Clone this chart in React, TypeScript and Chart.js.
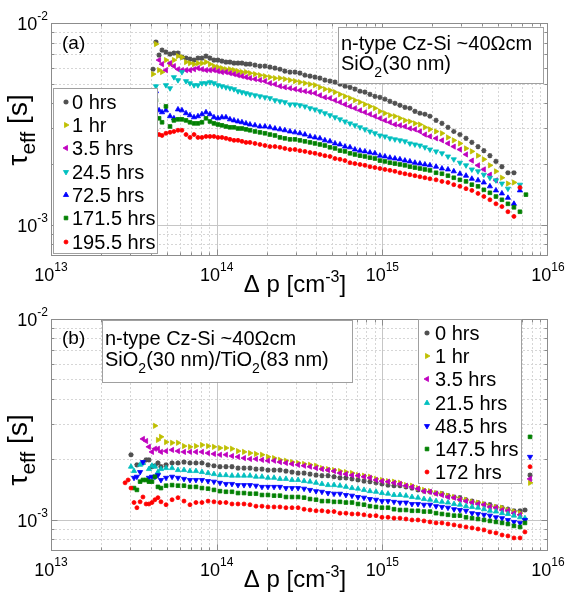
import React, { useEffect, useRef } from 'react';
import { Chart, registerables } from 'chart.js';

Chart.register(...registerables);

const FONT = '"Liberation Sans", Arial, Helvetica, sans-serif';

// ---------------- DATA ----------------
// Panel (a): excess carrier density Δp [cm^-3]
const deltaP_a = [
  4.13e13, 4.30e13, 4.49e13, 4.68e13, 4.94e13, 5.23e13, 5.52e13, 5.84e13, 6.17e13, 6.53e13,
  6.90e13, 7.30e13, 7.71e13, 8.15e13, 8.62e13, 9.11e13, 9.63e13, 1.018e14, 1.076e14, 1.138e14,
  1.203e14, 1.272e14, 1.345e14, 1.421e14, 1.503e14, 1.589e14, 1.703e14, 1.825e14, 1.956e14, 2.097e14,
  2.248e14, 2.41e14, 2.58e14, 2.77e14, 2.97e14, 3.18e14, 3.41e14, 3.66e14, 3.92e14, 4.2e14,
  4.5e14, 4.83e14, 5.18e14, 5.55e14, 5.95e14, 6.38e14, 6.83e14, 7.33e14, 7.85e14, 8.42e14,
  9.02e14, 9.67e14, 1.037e15, 1.111e15, 1.191e15, 1.277e15, 1.369e15, 1.467e15, 1.573e15, 1.686e15,
  1.807e15, 1.938e15, 2.11e15, 2.29e15, 2.49e15, 2.7e15, 2.94e15, 3.2e15, 3.47e15, 3.78e15,
  4.1e15, 4.46e15, 4.85e15, 5.27e15, 5.73e15, 6.23e15, 6.77e15, 7.36e15,
];
// τeff in ms
const tauA_0hrs = [
  5.90, 8.05, 6.93, 7.34, 7.17, 7.01, 7.09, 7.09, 6.77, 6.70,
  6.62, 6.55, 6.70, 6.70, 6.85, 6.70, 6.55, 6.55, 6.47, 6.40,
  6.40, 6.32, 6.32, 6.32, 6.25, 6.25, 6.18, 6.11, 6.11, 6.04,
  5.97, 5.90, 5.77, 5.71, 5.71, 5.64, 5.51, 5.45, 5.39, 5.33,
  5.21, 5.15, 5.09, 4.97, 4.86, 4.80, 4.70, 4.59, 4.54, 4.43,
  4.33, 4.28, 4.19, 4.09, 4.00, 3.91, 3.82, 3.78, 3.65, 3.57,
  3.53, 3.45, 3.29, 3.18, 3.04, 2.90, 2.80, 2.68, 2.56, 2.44,
  2.33, 2.20, 2.06, 1.94, 1.81, 1.81, null, null,
];
const tauA_1hr = [
  5.58, 7.86, 5.84, 5.71, 6.55, 6.25, 6.55, 6.85, 6.77, 6.40,
  6.32, 6.25, 6.32, 6.32, 6.40, 6.25, 6.11, 6.04, 5.97, 5.90,
  5.90, 5.84, 5.77, 5.71, 5.71, 5.64, 5.58, 5.51, 5.45, 5.39,
  5.33, 5.33, 5.27, 5.21, 5.15, 5.09, 5.03, 4.97, 4.92, 4.80,
  4.70, 4.64, 4.54, 4.43, 4.33, 4.24, 4.14, 4.05, 3.95, 3.86,
  3.78, 3.65, 3.57, 3.49, 3.45, 3.37, 3.29, 3.25, 3.18, 3.14,
  3.04, 2.97, 2.90, 2.84, 2.71, 2.62, 2.53, 2.39, 2.31, 2.20,
  2.11, 1.97, 1.84, 1.71, 1.60, 1.62, null, null,
];
const tauA_3p5hrs = [
  null, null, 6.55, 6.25, 5.84, 6.32, 6.11, 5.90, 5.84, 5.84,
  5.84, 5.90, 5.97, 5.90, 5.84, 5.84, 5.84, 5.77, 5.71, 5.71,
  5.64, 5.58, 5.51, 5.45, 5.39, 5.33, 5.27, 5.21, 5.15, 5.03,
  4.97, 4.86, 4.80, 4.75, 4.70, 4.64, 4.59, 4.54, 4.49, 4.38,
  4.28, 4.24, 4.14, 4.05, 3.95, 3.86, 3.78, 3.69, 3.61, 3.53,
  3.45, 3.37, 3.29, 3.22, 3.14, 3.11, 3.07, 3.00, 2.97, 2.90,
  2.80, 2.74, 2.68, 2.62, 2.53, 2.44, 2.36, 2.23, 2.08, 1.97,
  1.88, 1.77, 1.66, null, null, null, null, null,
];
const tauA_24p5hrs = [
  null, 4.86, null, null, 4.92, 4.75, 5.39, 5.21, 5.71, 5.15,
  5.03, 4.92, 4.92, 5.03, 5.03, 5.09, 5.03, 4.92, 4.86, 4.80,
  4.75, 4.70, 4.59, 4.54, 4.49, 4.43, 4.38, 4.33, 4.28, 4.24,
  4.14, 4.09, 4.05, 3.95, 3.95, 3.91, 3.86, 3.78, 3.73, 3.65,
  3.57, 3.49, 3.41, 3.33, 3.25, 3.18, 3.11, 3.04, 2.97, 2.90,
  2.84, 2.77, 2.74, 2.68, 2.65, 2.62, 2.59, 2.53, 2.50, 2.47,
  2.42, 2.36, 2.31, 2.26, 2.18, 2.11, 2.03, 1.97, 1.88, 1.84,
  1.77, 1.71, 1.66, 1.60, 1.51, null, 1.58, null,
];
const tauA_72p5hrs = [
  null, 4.59, 3.69, 3.61, 3.69, 3.45, 3.37, 3.73, 3.69, 3.57,
  3.49, 3.41, 3.45, 3.53, 3.61, 3.53, 3.41, 3.37, 3.41, 3.41,
  3.33, 3.29, 3.25, 3.22, 3.18, 3.14, 3.11, 3.07, 3.07, 3.04,
  3.00, 2.97, 2.94, 2.90, 2.87, 2.84, 2.80, 2.74, 2.71, 2.68,
  2.62, 2.59, 2.53, 2.50, 2.44, 2.42, 2.36, 2.33, 2.31, 2.28,
  2.26, 2.20, 2.18, 2.15, 2.13, 2.11, 2.08, 2.06, 2.03, 2.01,
  1.99, 1.97, 1.94, 1.90, 1.88, 1.84, 1.79, 1.75, 1.69, 1.66,
  1.62, 1.55, 1.48, 1.43, 1.36, 1.27, 1.48, null,
];
const tauA_171p5hrs = [
  null, 4.14, 3.37, 3.22, 3.86, 3.07, 3.29, 3.33, 3.33, 3.29,
  3.22, 3.18, 3.18, 3.22, 3.37, 3.25, 3.18, 3.14, 3.11, 3.07,
  3.04, 3.04, 3.00, 3.00, 2.97, 2.94, 2.90, 2.87, 2.84, 2.80,
  2.77, 2.71, 2.68, 2.65, 2.65, 2.62, 2.59, 2.56, 2.53, 2.50,
  2.47, 2.42, 2.39, 2.33, 2.31, 2.26, 2.23, 2.20, 2.18, 2.15,
  2.13, 2.08, 2.06, 2.03, 2.01, 1.99, 1.97, 1.94, 1.92, 1.90,
  1.88, 1.86, 1.81, 1.79, 1.75, 1.71, 1.67, 1.64, 1.58, 1.55,
  1.49, 1.44, 1.38, 1.33, 1.27, 1.22, 1.16, 1.41,
];
const tauA_195p5hrs = [
  null, 2.94, 2.80, 2.77, 2.84, 2.87, 2.90, 2.94, 2.94, 2.80,
  2.71, 2.80, 2.71, 2.71, 2.74, 2.74, 2.74, 2.71, 2.71, 2.68,
  2.65, 2.62, 2.62, 2.59, 2.56, 2.56, 2.53, 2.50, 2.47, 2.44,
  2.44, 2.42, 2.39, 2.36, 2.36, 2.33, 2.31, 2.28, 2.26, 2.23,
  2.20, 2.18, 2.13, 2.11, 2.08, 2.03, 2.01, 1.99, 1.97, 1.94,
  1.92, 1.90, 1.88, 1.86, 1.84, 1.81, 1.79, 1.77, 1.75, 1.73,
  1.71, 1.69, 1.67, 1.64, 1.62, 1.58, 1.55, 1.51, 1.48, 1.43,
  1.38, 1.33, 1.27, 1.23, 1.16, 1.10, 1.53, null,
];

// Panel (b)
const deltaP_b = [
  2.8e13, 2.92e13, 3.04e13, 3.17e13, 3.3e13, 3.45e13, 3.59e13, 3.75e13, 3.9e13, 4.07e13, 4.24e13, 4.42e13, 4.61e13,
  4.95e13, 5.38e13, 5.84e13, 6.35e13, 6.9e13, 7.5e13, 8.15e13, 8.87e13, 9.63e13,
  1.047e14, 1.138e14, 1.237e14, 1.345e14, 1.462e14, 1.589e14, 1.727e14, 1.877e14,
  2.04e14, 2.22e14, 2.41e14, 2.62e14, 2.85e14, 3.1e14, 3.37e14, 3.66e14, 3.98e14, 4.32e14,
  4.7e14, 5.11e14, 5.55e14, 6.03e14, 6.56e14, 7.13e14, 7.75e14, 8.42e14, 9.16e14, 9.95e14,
  1.082e15, 1.176e15, 1.278e15, 1.389e15, 1.51e15, 1.641e15, 1.784e15, 1.94e15,
  2.11e15, 2.29e15, 2.49e15, 2.71e15, 2.94e15, 3.2e15, 3.48e15, 3.78e15, 4.11e15, 4.46e15,
  4.85e15, 5.28e15, 5.73e15, 6.23e15, 6.78e15,
  7.26e15, 7.79e15,
];
const tauB_0hrs = [
  null, null, 2.11, null, 1.88, null, 1.92, 1.99, 1.99, 1.84, 1.86, 1.92, 1.84,
  1.88, 1.92, 1.92, 1.94, 1.92, 1.92, 1.92, 1.88, 1.86,
  1.84, 1.84, 1.84, 1.81, 1.81, 1.81, 1.79, 1.79,
  1.77, 1.77, 1.77, 1.75, 1.73, 1.71, 1.71, 1.69, 1.67, 1.66,
  1.66, 1.64, 1.62, 1.62, 1.60, 1.58, 1.56, 1.55, 1.53, 1.51,
  1.49, 1.48, 1.48, 1.46, 1.44, 1.41, 1.39, 1.38,
  1.36, 1.35, 1.32, 1.30, 1.29, 1.26, 1.24, 1.22, 1.20, 1.19,
  1.16, 1.15, 1.13, 1.11, 1.11,
  1.12, 1.67,
];
const tauB_1hr = [
  null, null, null, null, null, null, null, null, null, null, 2.94, 2.50, 2.59,
  2.44, 2.42, 2.42, 2.33, 2.31, 2.33, 2.36, 2.33, 2.31,
  2.28, 2.28, 2.26, 2.20, 2.18, 2.15, 2.13, 2.11,
  2.06, 2.03, 1.99, 1.97, 1.94, 1.92, 1.90, 1.88, 1.86, 1.81,
  1.79, 1.77, 1.75, 1.73, 1.71, 1.67, 1.66, 1.64, 1.60, 1.58,
  1.56, 1.55, 1.53, 1.49, 1.48, 1.44, 1.41, 1.39,
  1.36, 1.35, 1.32, 1.30, 1.27, 1.26, 1.23, 1.22, 1.20, 1.17,
  1.16, 1.15, 1.12, 1.10, 1.08,
  null, 1.53,
];
const tauB_3p5hrs = [
  null, null, null, null, null, null, 2.53, 2.47, 2.31, 2.18, 2.26, 2.26, 2.18,
  2.20, 2.23, 2.20, 2.18, 2.18, 2.18, 2.18, 2.15, 2.13,
  2.11, 2.11, 2.08, 2.06, 2.03, 2.01, 2.01, 1.99,
  1.97, 1.97, 1.94, 1.92, 1.90, 1.88, 1.86, 1.84, 1.81, 1.79,
  1.77, 1.75, 1.71, 1.69, 1.67, 1.66, 1.64, 1.62, 1.58, 1.56,
  1.55, 1.53, 1.51, 1.48, 1.46, 1.43, 1.39, 1.38,
  1.35, 1.33, 1.30, 1.29, 1.26, 1.24, 1.22, 1.20, 1.19, 1.16,
  1.15, 1.12, 1.11, 1.08, 1.06,
  null, 1.60,
];
const tauB_21p5hrs = [
  null, null, 1.84, 1.75, null, 1.88, 1.92, null, 1.79, 1.86, 1.84, 1.73, 1.79,
  1.81, 1.81, 1.77, 1.77, 1.75, 1.75, 1.73, 1.71, 1.69,
  1.67, 1.67, 1.66, 1.66, 1.66, 1.66, 1.64, 1.64,
  1.62, 1.62, 1.60, 1.60, 1.58, 1.58, 1.56, 1.55, 1.53, 1.51,
  1.49, 1.49, 1.48, 1.46, 1.44, 1.43, 1.41, 1.39, 1.38, 1.36,
  1.35, 1.33, 1.33, 1.32, 1.30, 1.29, 1.27, 1.26,
  1.24, 1.23, 1.22, 1.20, 1.19, 1.17, 1.16, 1.15, 1.13, 1.11,
  1.10, 1.08, 1.07, 1.05, 1.03,
  1.02, null,
];
const tauB_48p5hrs = [
  null, null, null, 1.62, 1.64, 1.73, 1.94, null, 1.62, 1.64, 1.64, 1.67, 1.58,
  1.62, 1.64, 1.62, 1.60, 1.58, 1.58, 1.58, 1.56, 1.55,
  1.53, 1.51, 1.51, 1.49, 1.49, 1.49, 1.48, 1.46,
  1.46, 1.46, 1.46, 1.44, 1.44, 1.44, 1.43, 1.41, 1.39, 1.38,
  1.36, 1.35, 1.35, 1.33, 1.32, 1.30, 1.29, 1.27, 1.26, 1.24,
  1.24, 1.23, 1.22, 1.22, 1.20, 1.20, 1.19, 1.19,
  1.17, 1.16, 1.15, 1.13, 1.12, 1.11, 1.08, 1.07, 1.06, 1.05,
  1.03, 1.02, 0.999, 0.977, 0.966,
  0.999, 2.06,
];
const tauB_147p5hrs = [
  null, null, null, 1.44, 1.41, 1.55, 1.58, 1.58, 1.55, 1.55, 1.64, 1.46, 1.44,
  1.48, 1.49, 1.48, 1.48, 1.46, 1.46, 1.44, 1.43, 1.41,
  1.39, 1.38, 1.38, 1.36, 1.36, 1.35, 1.35, 1.33,
  1.33, 1.32, 1.32, 1.30, 1.30, 1.30, 1.29, 1.27, 1.26, 1.24,
  1.24, 1.23, 1.23, 1.22, 1.22, 1.20, 1.19, 1.17, 1.16, 1.15,
  1.15, 1.13, 1.12, 1.12, 1.11, 1.11, 1.10, 1.10,
  1.08, 1.07, 1.06, 1.05, 1.05, 1.03, 1.02, 1.01, 0.999, 0.988,
  0.977, 0.966, 0.954, 0.933, 0.922,
  0.966, 2.59,
];
const tauB_172hrs = [
  1.53, 1.58, 1.44, 1.22, 1.15, 1.23, 1.30, 1.20, 1.20, 1.22, 1.26, 1.29, 1.23,
  1.19, 1.26, 1.29, 1.24, 1.19, 1.22, 1.22, 1.24, 1.23,
  1.22, 1.22, 1.20, 1.20, 1.20, 1.19, 1.17, 1.17,
  1.16, 1.16, 1.16, 1.15, 1.15, 1.15, 1.13, 1.12, 1.11, 1.11,
  1.10, 1.10, 1.08, 1.08, 1.07, 1.07, 1.06, 1.05, 1.05, 1.03,
  1.03, 1.02, 1.02, 1.01, 0.999, 0.999, 0.988, 0.977,
  0.966, 0.966, 0.954, 0.944, 0.933, 0.922, 0.912, 0.901, 0.891, 0.871,
  0.861, 0.841, 0.832, 0.813, 0.813,
  0.871, 1.84,
];

const labelsA = ['0 hrs', '1 hr', '3.5 hrs', '24.5 hrs', '72.5 hrs', '171.5 hrs', '195.5 hrs'];
const labelsB = ['0 hrs', '1 hr', '3.5 hrs', '21.5 hrs', '48.5 hrs', '147.5 hrs', '172 hrs'];
const xTickExponents = [13, 14, 15, 16];
const yTickExponents = [-3, -2];
const X_MIN = 1e13, X_MAX = 1e16, Y_MIN = 7e-4, Y_MAX = 1e-2;

// ---------------- STYLES ----------------
type Mk = { color: string; style: string; rot: number; r: number };
const GRAY: Mk = { color: '#505050', style: 'star', rot: 0, r: 2.6 };
const YEL: Mk = { color: '#bfbf00', style: 'triangle', rot: 90, r: 3 };
const MAG: Mk = { color: '#bf00bf', style: 'triangle', rot: -90, r: 3 };
const CYA_DOWN: Mk = { color: '#00bfbf', style: 'triangle', rot: 180, r: 3 };
const CYA_UP: Mk = { color: '#00bfbf', style: 'triangle', rot: 0, r: 3 };
const BLU_UP: Mk = { color: '#0000ff', style: 'triangle', rot: 0, r: 3 };
const BLU_DOWN: Mk = { color: '#0000ff', style: 'triangle', rot: 180, r: 3 };
const GRN: Mk = { color: '#008000', style: 'rect', rot: 0, r: 2.6 };
const RED: Mk = { color: '#ff0000', style: 'circle', rot: 0, r: 2 };

type Seg = { t: string; k?: 'sub' | 'sup' };

function drawRich(ctx: CanvasRenderingContext2D, segs: Seg[], x: number, y: number, size: number, small: number, subDy: number, supDy: number, align: 'left' | 'center' | 'right') {
  const fonts = segs.map((s) => `${s.k ? small : size}px ${FONT}`);
  let total = 0;
  const widths = segs.map((s, i) => {
    ctx.font = fonts[i];
    const w = ctx.measureText(s.t).width;
    total += w;
    return w;
  });
  let cx = align === 'left' ? x : align === 'center' ? x - total / 2 : x - total;
  ctx.textAlign = 'left';
  ctx.textBaseline = 'alphabetic';
  segs.forEach((s, i) => {
    ctx.font = fonts[i];
    const dy = s.k === 'sub' ? subDy : s.k === 'sup' ? supDy : 0;
    ctx.fillText(s.t, cx, y + dy);
    cx += widths[i];
  });
}

function drawMarker(ctx: CanvasRenderingContext2D, m: Mk, x: number, y: number) {
  ctx.save();
  ctx.fillStyle = m.color;
  ctx.strokeStyle = m.color;
  ctx.lineWidth = 0.8;
  ctx.beginPath();
  if (m.style === 'circle') {
    ctx.arc(x, y, m.r, 0, Math.PI * 2);
    ctx.fill();
    ctx.stroke();
  } else if (m.style === 'rect') {
    const s = m.r * Math.SQRT1_2;
    ctx.rect(x - s, y - s, 2 * s, 2 * s);
    ctx.fill();
    ctx.stroke();
  } else if (m.style === 'triangle') {
    let rad = (m.rot * Math.PI) / 180;
    ctx.moveTo(x + Math.sin(rad) * m.r, y - Math.cos(rad) * m.r);
    rad += (2 * Math.PI) / 3;
    ctx.lineTo(x + Math.sin(rad) * m.r, y - Math.cos(rad) * m.r);
    rad += (2 * Math.PI) / 3;
    ctx.lineTo(x + Math.sin(rad) * m.r, y - Math.cos(rad) * m.r);
    ctx.closePath();
    ctx.fill();
    ctx.stroke();
  } else {
    ctx.lineWidth = 1.4;
    const r = m.r;
    const d = r * Math.SQRT1_2;
    ctx.moveTo(x - r, y); ctx.lineTo(x + r, y);
    ctx.moveTo(x, y - r); ctx.lineTo(x, y + r);
    ctx.moveTo(x - d, y - d); ctx.lineTo(x + d, y + d);
    ctx.moveTo(x - d, y + d); ctx.lineTo(x + d, y - d);
    ctx.stroke();
  }
  ctx.restore();
}

type PanelDef = {
  height: number;
  areaTop: number;
  areaBottom: number;
  xs: number[];
  series: (number | null)[][];
  labels: string[];
  markers: Mk[];
  tag: string;
  tagBase: number;
  noteLines: Seg[][];
  noteBox: [number, number, number, number];
  noteX: number;
  noteBases: number[];
  legBox: [number, number, number, number];
  legMarkerX: number;
  legTextX: number;
  legRows: number[];
  yTitleCenter: number;
};

function gridValues(loExp: number, hiExp: number, min: number, max: number) {
  const out: { v: number; major: boolean }[] = [];
  for (let e = loExp; e <= hiExp; e++) {
    for (let m = 1; m <= 9; m++) {
      const v = m * Math.pow(10, e);
      if (v > min * 1.0001 && v < max * 0.9999) out.push({ v, major: m === 1 });
    }
  }
  return out;
}

function makePlugin(def: PanelDef) {
  return {
    id: 'matlabLook',
    beforeDatasetsDraw(chart: any) {
      const { ctx, chartArea: a } = chart;
      const sx = chart.scales.x, sy = chart.scales.y;
      ctx.save();
      const xg = gridValues(13, 16, X_MIN, X_MAX);
      const yg = gridValues(-4, -2, Y_MIN, Y_MAX);
      for (const g of xg) {
        const p = Math.round(sx.getPixelForValue(g.v)) + 0.5;
        ctx.beginPath();
        ctx.strokeStyle = g.major ? '#c6c6c6' : '#d6d6d6';
        ctx.setLineDash(g.major ? [] : [2, 2]);
        ctx.lineWidth = 1;
        ctx.moveTo(p, a.top);
        ctx.lineTo(p, a.bottom);
        ctx.stroke();
      }
      for (const g of yg) {
        const p = Math.round(sy.getPixelForValue(g.v)) + 0.5;
        ctx.beginPath();
        ctx.strokeStyle = g.major ? '#c6c6c6' : '#d6d6d6';
        ctx.setLineDash(g.major ? [] : [2, 2]);
        ctx.lineWidth = 1;
        ctx.moveTo(a.left, p);
        ctx.lineTo(a.right, p);
        ctx.stroke();
      }
      ctx.restore();
    },
    afterDatasetsDraw(chart: any) {
      const { ctx, chartArea: a } = chart;
      const sx = chart.scales.x, sy = chart.scales.y;
      ctx.save();
      // frame
      ctx.strokeStyle = '#8c8c8c';
      ctx.lineWidth = 1;
      ctx.setLineDash([]);
      const L = Math.round(a.left) + 0.5, R = Math.round(a.right) - 0.5;
      const T = Math.round(a.top) + 0.5, B = Math.round(a.bottom) - 0.5;
      ctx.strokeRect(L, T, R - L, B - T);
      // tick marks
      const xg = gridValues(13, 16, X_MIN, X_MAX);
      const yg = gridValues(-4, -2, Y_MIN, Y_MAX);
      ctx.beginPath();
      for (const g of xg) {
        const p = Math.round(sx.getPixelForValue(g.v)) + 0.5;
        const len = g.major ? 6 : 3;
        ctx.moveTo(p, B); ctx.lineTo(p, B - len);
        ctx.moveTo(p, T); ctx.lineTo(p, T + len);
      }
      for (const g of yg) {
        const p = Math.round(sy.getPixelForValue(g.v)) + 0.5;
        const len = g.major ? 6 : 3;
        ctx.moveTo(L, p); ctx.lineTo(L + len, p);
        ctx.moveTo(R, p); ctx.lineTo(R - len, p);
      }
      ctx.stroke();

      // tick labels
      ctx.fillStyle = '#000';
      for (const e of xTickExponents) {
        const p = sx.getPixelForValue(Math.pow(10, e));
        drawRich(ctx, [{ t: '10' }, { t: String(e), k: 'sup' }], p, a.bottom + 25, 18, 12, 0, -10, 'center');
      }
      for (const e of yTickExponents) {
        const p = sy.getPixelForValue(Math.pow(10, e));
        drawRich(ctx, [{ t: '10' }, { t: String(e), k: 'sup' }], a.left - 3, p + 7, 18, 12, 0, -10, 'right');
      }
      // axis titles
      drawRich(ctx, [{ t: 'Δ p [cm' }, { t: '-3', k: 'sup' }, { t: ']' }], 295, a.bottom + 36, 24, 16, 0, -10, 'center');
      ctx.save();
      ctx.translate(27, def.yTitleCenter);
      ctx.rotate(-Math.PI / 2);
      drawRich(ctx, [{ t: 'τ' }, { t: 'eff', k: 'sub' }, { t: ' [s]' }], 0, 0, 28, 21, 8, 0, 'center');
      ctx.restore();

      // annotation box
      const [nx0, ny0, nx1, ny1] = def.noteBox;
      ctx.fillStyle = '#fff';
      ctx.fillRect(nx0, ny0, nx1 - nx0, ny1 - ny0);
      ctx.strokeStyle = '#a0a0a0';
      ctx.strokeRect(nx0 + 0.5, ny0 + 0.5, nx1 - nx0, ny1 - ny0);
      ctx.fillStyle = '#000';
      def.noteLines.forEach((segs, i) => {
        drawRich(ctx, segs, def.noteX, def.noteBases[i], 20, 14, 7, -9, 'left');
      });
      // panel tag
      drawRich(ctx, [{ t: def.tag }], 62, def.tagBase, 19, 13, 0, 0, 'left');

      // legend
      const [lx0, ly0, lx1, ly1] = def.legBox;
      ctx.fillStyle = '#fff';
      ctx.fillRect(lx0, ly0, lx1 - lx0, ly1 - ly0);
      ctx.strokeStyle = '#a0a0a0';
      ctx.strokeRect(lx0 + 0.5, ly0 + 0.5, lx1 - lx0, ly1 - ly0);
      def.labels.forEach((lab, i) => {
        const yc = def.legRows[i];
        drawMarker(ctx, def.markers[i], def.legMarkerX, yc);
        ctx.fillStyle = '#000';
        drawRich(ctx, [{ t: lab }], def.legTextX, yc + 7, 20, 14, 0, 0, 'left');
      });
      ctx.restore();
    },
  };
}

function Panel({ def }: { def: PanelDef }) {
  const ref = useRef<HTMLCanvasElement>(null);
  useEffect(() => {
    const canvas = ref.current;
    if (!canvas) return;
    const datasets = def.series.map((vals, i) => {
      const m = def.markers[i];
      const pts: { x: number; y: number }[] = [];
      vals.forEach((v, j) => {
        if (v != null) pts.push({ x: def.xs[j], y: v / 1000 });
      });
      return {
        label: def.labels[i],
        data: pts,
        showLine: false,
        order: def.series.length - i,
        pointStyle: m.style as any,
        rotation: m.rot,
        radius: m.r,
        pointRadius: m.r,
        hoverRadius: m.r,
        backgroundColor: m.color,
        borderColor: m.color,
        pointBorderWidth: m.style === 'star' ? 1.4 : 0.8,
        borderWidth: m.style === 'star' ? 1.4 : 0.8,
      };
    });
    const xAxisH = def.height - def.areaBottom;
    const chart = new Chart(canvas, {
      type: 'scatter',
      data: { datasets },
      options: {
        responsive: false,
        maintainAspectRatio: false,
        animation: false,
        devicePixelRatio: 1,
        events: [],
        layout: { padding: { left: 0, right: 28, top: def.areaTop, bottom: 0 } },
        plugins: { legend: { display: false }, tooltip: { enabled: false }, title: { display: false } },
        scales: {
          x: {
            type: 'logarithmic',
            min: X_MIN,
            max: X_MAX,
            grid: { display: false },
            border: { display: false },
            ticks: { display: false },
            afterFit: (s: any) => { s.height = xAxisH; },
          },
          y: {
            type: 'logarithmic',
            min: Y_MIN,
            max: Y_MAX,
            grid: { display: false },
            border: { display: false },
            ticks: { display: false },
            afterFit: (s: any) => { s.width = 51; },
          },
        },
      } as any,
      plugins: [makePlugin(def) as any],
    });
    return () => chart.destroy();
  }, [def]);
  return <canvas ref={ref} width={576} height={def.height} style={{ display: 'block', width: 576, height: def.height }} />;
}

const panelA: PanelDef = {
  height: 298,
  areaTop: 23,
  areaBottom: 256,
  xs: deltaP_a,
  series: [tauA_0hrs, tauA_1hr, tauA_3p5hrs, tauA_24p5hrs, tauA_72p5hrs, tauA_171p5hrs, tauA_195p5hrs],
  labels: labelsA,
  markers: [GRAY, YEL, MAG, CYA_DOWN, BLU_UP, GRN, RED],
  tag: '(a)',
  tagBase: 49,
  noteLines: [
    [{ t: 'n-type Cz-Si ~40Ωcm' }],
    [{ t: 'SiO' }, { t: '2', k: 'sub' }, { t: '(30 nm)' }],
  ],
  noteBox: [338, 27, 543, 83],
  noteX: 341,
  noteBases: [50, 70],
  legBox: [53, 88, 157, 253],
  legMarkerX: 66,
  legTextX: 72,
  legRows: [102, 125, 148, 172, 195, 218, 242],
  yTitleCenter: 130,
};

const panelB: PanelDef = {
  height: 299,
  areaTop: 21,
  areaBottom: 253,
  xs: deltaP_b,
  series: [tauB_0hrs, tauB_1hr, tauB_3p5hrs, tauB_21p5hrs, tauB_48p5hrs, tauB_147p5hrs, tauB_172hrs],
  labels: labelsB,
  markers: [GRAY, YEL, MAG, CYA_UP, BLU_DOWN, GRN, RED],
  tag: '(b)',
  tagBase: 46,
  noteLines: [
    [{ t: 'n-type Cz-Si ~40Ωcm' }],
    [{ t: 'SiO' }, { t: '2', k: 'sub' }, { t: '(30 nm)/TiO' }, { t: '2', k: 'sub' }, { t: '(83 nm)' }],
  ],
  noteBox: [102, 22, 352, 84],
  noteX: 105,
  noteBases: [47, 68],
  legBox: [418, 21, 521, 185],
  legMarkerX: 427,
  legTextX: 435,
  legRows: [35, 58, 81, 105, 128, 151, 174],
  yTitleCenter: 152,
};

export default function App() {
  return (
    <div style={{ position: 'absolute', left: 0, top: 0, width: 576, height: 597, background: '#fff' }}>
      <Panel def={panelA} />
      <Panel def={panelB} />
    </div>
  );
}
